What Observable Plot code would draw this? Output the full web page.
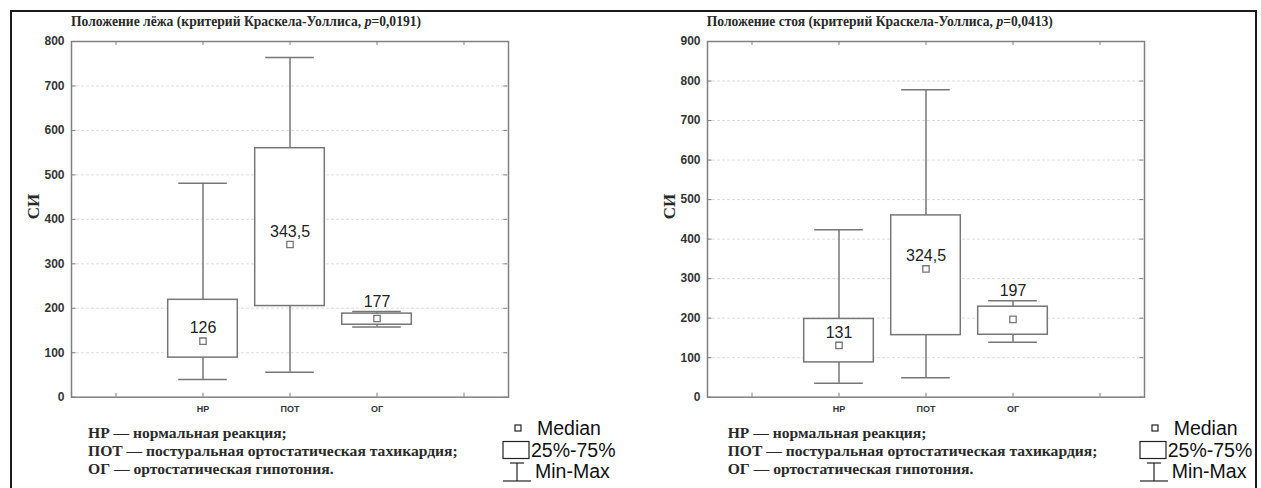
<!DOCTYPE html>
<html><head><meta charset="utf-8">
<script src="https://cdn.jsdelivr.net/npm/d3@7"></script>
<script src="https://cdn.jsdelivr.net/npm/@observablehq/plot@0.6"></script>
<style>
body{margin:0;background:#fff;}
#page{position:relative;width:1261px;height:488px;overflow:hidden;background:#fff;}
#border{position:absolute;left:10px;top:10px;width:1247px;height:520px;border:2px solid #1a1a1a;box-sizing:border-box;}
.title{position:absolute;font-family:"Liberation Serif",serif;font-weight:bold;font-size:13.6px;line-height:14px;color:#2a2a2a;white-space:nowrap;}
.notes{position:absolute;font-family:"Liberation Serif",serif;font-weight:bold;font-size:15.6px;line-height:18px;color:#2a2a2a;white-space:nowrap;}
.key{position:absolute;font-family:"Liberation Sans",sans-serif;font-size:19.5px;color:#111;}
.key .row{position:absolute;left:0;height:20px;white-space:nowrap;}
.key svg{position:absolute;left:0;top:0;}
.key span{position:absolute;left:30px;top:0;line-height:20px;}
.plot{position:absolute;top:0;}
</style></head><body>
<div id="page">
  <div id="border"></div>
  <div id="left" class="plot" style="left:0px"></div>
  <div id="right" class="plot" style="left:635.7px"></div>
</div>
<script>
// ---- data ----
const categories = ["НР", "ПОТ", "ОГ"];
const xSlots = ["pad-start", "НР", "ПОТ", "ОГ", "pad-end"];

const lyingTitle = "Положение лёжа (критерий Краскела-Уоллиса, <i>p</i>=0,0191)";
const lyingMin = [40, 56, 158];
const lyingQ1 = [89, 205, 163];
const lyingMedian = [126, 343.5, 177];
const lyingQ3 = [219, 560, 188];
const lyingMax = [481, 764, 193];
const lyingLabels = ["126", "343,5", "177"];
const lyingTicks = [0, 100, 200, 300, 400, 500, 600, 700, 800];

const standingTitle = "Положение стоя (критерий Краскела-Уоллиса, <i>p</i>=0,0413)";
const standingMin = [35, 49, 139];
const standingQ1 = [88, 157, 158];
const standingMedian = [131, 324.5, 197];
const standingQ3 = [198, 460, 229];
const standingMax = [424, 778, 244];
const standingLabels = ["131", "324,5", "197"];
const standingTicks = [0, 100, 200, 300, 400, 500, 600, 700, 800, 900];

const notesLines = [
  "НР — нормальная реакция;",
  "ПОТ — постуральная ортостатическая тахикардия;",
  "ОГ — ортостатическая гипотония."
];
const keyLabels = ["Median", "25%-75%", "Min-Max"];
const yLabel = "СИ";

// ---- drawing ----
const boxStroke = "#767676";
const W = 620, H = 420, mL = 71, mT = 41, mR = 112, mB = 23.3;
const plotH = H - mT - mB;
const band = (W - mL - mR) / xSlots.length;

function panel(el, min, q1, med, q3, max, labels, ticks) {
  const rows = categories.map((c, i) => ({cat: c, min: min[i], q1: q1[i], median: med[i], q3: q3[i], max: max[i], label: labels[i]}));
  const yMax = ticks[ticks.length - 1];
  const inside = rows.filter(d => (d.q3 - d.q1) / yMax * plotH > 40);
  const above = rows.filter(d => (d.q3 - d.q1) / yMax * plotH <= 40);
  const font = "Liberation Sans, Arial, sans-serif";
  const p = Plot.plot({
    width: W, height: H,
    marginLeft: mL, marginTop: mT, marginRight: mR, marginBottom: mB,
    style: {background: "transparent", overflow: "visible"},
    x: {type: "band", domain: xSlots, padding: 0},
    y: {domain: [0, yMax]},
    marks: [
      Plot.gridY(ticks.slice(1, -1), {stroke: "#d4d4d4", strokeOpacity: 1, strokeDasharray: "3,2", strokeWidth: 0.8}),
      Plot.frame({stroke: "#808080", strokeWidth: 1.5}),
      // inward ticks
      Plot.tickY(ticks, {y: d => d, x: () => xSlots[0], insetRight: band - 4, stroke: "#808080", strokeWidth: 1}),
      Plot.tickY(ticks, {y: d => d, x: () => xSlots[xSlots.length - 1], insetLeft: band - 4, stroke: "#808080", strokeWidth: 1}),
      Plot.tickX(xSlots, {x: d => d, insetBottom: plotH - 4, stroke: "#808080", strokeWidth: 1}),
      Plot.tickX(xSlots, {x: d => d, insetTop: plotH - 4, stroke: "#808080", strokeWidth: 1}),
      Plot.axisY(ticks, {tickSize: 0, tickPadding: 7, fontSize: 12, fontWeight: "bold", fontFamily: font, fill: "#333", label: null}),
      Plot.axisX({tickSize: 0, tickPadding: 8, fontSize: 9, fontWeight: "bold", fontFamily: font, fill: "#333", label: null,
        tickFormat: d => categories.includes(d) ? d : ""}),
      Plot.text([yLabel], {text: d => d, frameAnchor: "left", rotate: -90, dx: -38, fontSize: 17, fontWeight: "bold", fontFamily: "Liberation Serif, serif", fill: "#2a2a2a"}),
      // whiskers
      Plot.ruleX(rows, {x: "cat", y1: "min", y2: "max", stroke: boxStroke, strokeWidth: 1.5}),
      Plot.tickY(rows, {x: "cat", y: "min", insetLeft: (band - 49) / 2, insetRight: (band - 49) / 2, stroke: boxStroke, strokeWidth: 1.5}),
      Plot.tickY(rows, {x: "cat", y: "max", insetLeft: (band - 49) / 2, insetRight: (band - 49) / 2, stroke: boxStroke, strokeWidth: 1.5}),
      // boxes
      Plot.barY(rows, {x: "cat", y1: "q1", y2: "q3", insetLeft: (band - 70) / 2, insetRight: (band - 70) / 2, fill: "white", stroke: boxStroke, strokeWidth: 1.5}),
      // medians
      Plot.dot(rows, {x: "cat", y: "median", symbol: "square", r: 3.6, fill: "white", stroke: boxStroke, strokeWidth: 1.3}),
      Plot.text(inside, {x: "cat", y: "median", text: "label", dy: -13, fontSize: 16, fontFamily: font, fill: "#222"}),
      Plot.text(above, {x: "cat", y: "max", text: "label", dy: -10, fontSize: 16, fontFamily: font, fill: "#222"})
    ]
  });
  el.appendChild(p);
}

function extras(el, title, notesLeft, keyLeft) {
  const t = document.createElement("div");
  t.className = "title"; t.style.left = "71px"; t.style.top = "15px"; t.innerHTML = title;
  el.appendChild(t);
  const n = document.createElement("div");
  n.className = "notes"; n.style.left = notesLeft + "px"; n.style.top = "424px";
  n.innerHTML = notesLines.join("<br>");
  el.appendChild(n);
  const k = document.createElement("div");
  k.className = "key"; k.style.left = keyLeft + "px"; k.style.top = "418px";
  const icons = [
    '<svg width="30" height="20"><rect x="13" y="7" width="6" height="6" fill="white" stroke="#222" stroke-width="1.2"/></svg>',
    '<svg width="30" height="20"><rect x="1" y="1.5" width="26" height="17" fill="white" stroke="#222" stroke-width="1.2"/></svg>',
    '<svg width="30" height="22"><line x1="8" y1="2" x2="22" y2="2" stroke="#222" stroke-width="1.2"/><line x1="15" y1="2" x2="15" y2="20" stroke="#222" stroke-width="1.2"/><line x1="1" y1="20" x2="29" y2="20" stroke="#222" stroke-width="1.2"/></svg>'
  ];
  const offs = [35, 29, 33];
  keyLabels.forEach((lab, i) => {
    const r = document.createElement("div");
    r.className = "row"; r.style.top = (i * 21.5) + "px";
    r.innerHTML = icons[i] + '<span style="left:' + offs[i] + 'px">' + lab + '</span>';
    k.appendChild(r);
  });
  el.appendChild(k);
}

const L = document.getElementById("left"), R = document.getElementById("right");
panel(L, lyingMin, lyingQ1, lyingMedian, lyingQ3, lyingMax, lyingLabels, lyingTicks);
panel(R, standingMin, standingQ1, standingMedian, standingQ3, standingMax, standingLabels, standingTicks);
extras(L, lyingTitle, 88, 502);
extras(R, standingTitle, 92, 503);
</script>
</body></html>
